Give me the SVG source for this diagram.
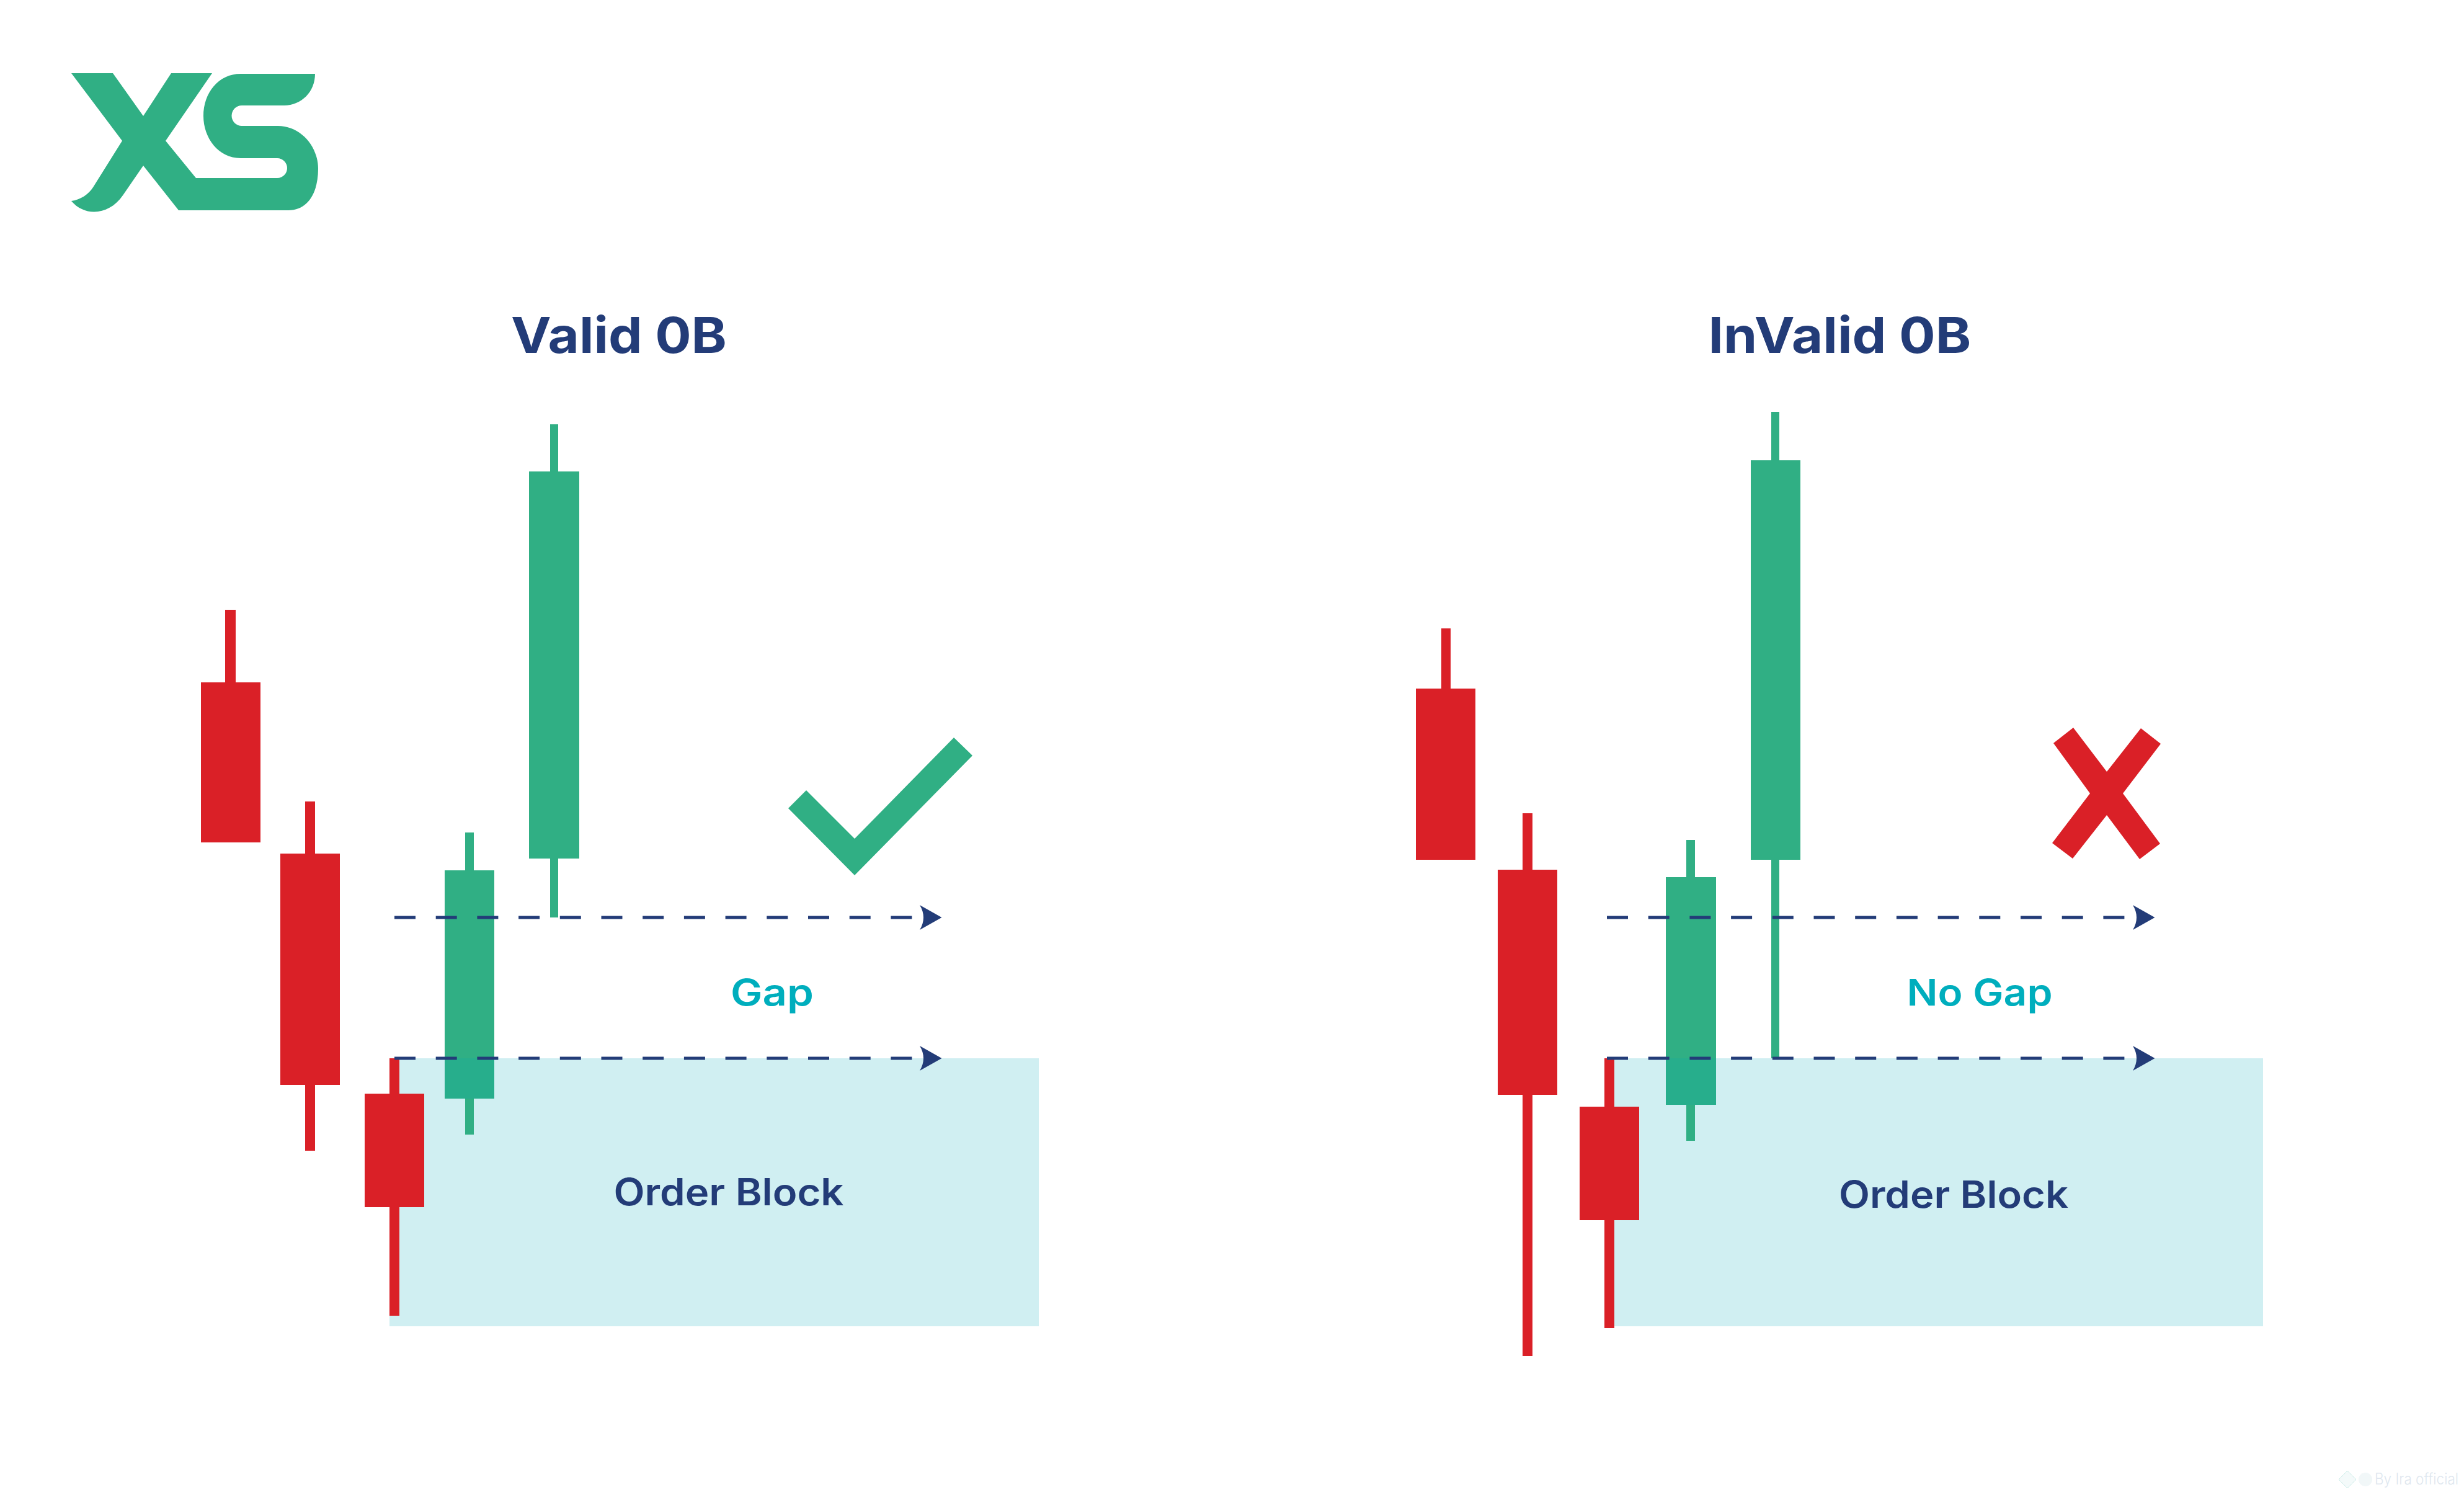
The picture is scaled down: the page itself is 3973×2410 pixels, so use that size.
<svg xmlns="http://www.w3.org/2000/svg" width="3973" height="2410" viewBox="0 0 3973 2410">
<style>
.r{fill:#da2027}.g{fill:#30af84}.b{fill:#d0eff2}.d{fill:#27ae8c}
.c{fill:none;stroke:#233c78;stroke-width:5;stroke-dasharray:34 32.7;marker-end:url(#arrow)}
text{font-family:Inter,"Liberation Sans",sans-serif;font-weight:600}
.title{font-size:80px;fill:#233c78;font-weight:650}.ob{font-size:60px;fill:#233c78}.gap{font-size:59px;fill:#00aebd}
.wm{font-size:25px;font-weight:300;fill:#9fb8d0;opacity:.55}
</style>
<defs>
<marker id="arrow" markerUnits="userSpaceOnUse" markerWidth="36" markerHeight="42" refX="0" refY="21" viewBox="0 0 36 42" orient="auto">
<path d="M0 1L35.500 21L0 41Q12 21 0 1Z" fill="#233c78"/>
</marker>
</defs>
<rect width="3973" height="2410" fill="#fff"/>
<g id="logo"><path class="g" d="M115 118H182L231 187L276 118H342L267 227L316 287H447A16 16 0 0 0 447 255H388C352 255 328 222 328 187C328 150 352 119 388 119H508C508 148 486 170 458 170H390A16.500 16.500 0 0 0 390 203H448C485 203 513 236 513 272C513 310 497 339 465 339H288L231 267L198 315C176 347 137 350 115 324C130 322 143 313 150 302L197 227Z"/></g>
<g id="title-valid"><text class="title" x="998" y="569" text-anchor="middle" textLength="348" lengthAdjust="spacingAndGlyphs">Valid 0B</text></g>
<g id="title-invalid"><text class="title" x="2966.500" y="569" text-anchor="middle" textLength="424" lengthAdjust="spacingAndGlyphs">InValid 0B</text></g>
<g id="zone-valid"><rect class="b" x="628" y="1706" width="1047" height="432"/><text class="ob" x="1175" y="1943" text-anchor="middle" textLength="371" lengthAdjust="spacingAndGlyphs">Order Block</text></g>
<g id="zone-invalid"><rect class="b" x="2588" y="1706" width="1061" height="432"/><text class="ob" x="3150" y="1947" text-anchor="middle" textLength="370" lengthAdjust="spacingAndGlyphs">Order Block</text></g>
<g id="valid-red-1"><rect class="r" x="363" y="983" width="17" height="120"/><rect class="r" x="324" y="1100" width="96" height="258"/></g>
<g id="valid-red-2"><rect class="r" x="492" y="1292" width="16" height="563"/><rect class="r" x="452" y="1376" width="96" height="373"/></g>
<g id="valid-red-3"><rect class="r" x="628" y="1706" width="16" height="415"/><rect class="r" x="588" y="1763" width="96" height="183"/></g>
<g id="valid-green-1"><rect class="g" x="750" y="1342" width="14" height="487"/><rect class="g" x="717" y="1403" width="80" height="303"/><rect class="d" x="717" y="1706" width="80" height="65"/></g>
<g id="valid-green-2"><rect class="g" x="887" y="684" width="13" height="795"/><rect class="g" x="853" y="760" width="81" height="624"/></g>
<g id="check"><polygon class="g" points="1271,1303 1300,1274 1378,1352 1538,1189 1568,1218 1378,1411"/></g>
<g id="invalid-red-1"><rect class="r" x="2324" y="1013" width="15" height="100"/><rect class="r" x="2283" y="1110" width="96" height="276"/></g>
<g id="invalid-red-2"><rect class="r" x="2455" y="1311" width="16" height="875"/><rect class="r" x="2415" y="1402" width="96" height="363"/></g>
<g id="invalid-red-3"><rect class="r" x="2587" y="1706" width="16" height="435"/><rect class="r" x="2547" y="1784" width="96" height="183"/></g>
<g id="invalid-green-1"><rect class="g" x="2719" y="1354" width="14" height="485"/><rect class="g" x="2686" y="1414" width="81" height="292"/><rect class="d" x="2686" y="1706" width="81" height="75"/></g>
<g id="invalid-green-2"><rect class="g" x="2856" y="664" width="13" height="1042"/><rect class="g" x="2823" y="742" width="80" height="644"/></g>
<g id="cross"><polygon class="r" points="3343,1173 3397,1244 3452,1174 3484,1199 3423,1279 3483,1360 3450,1385 3397,1314 3342,1384 3309,1359 3370,1279 3311,1198"/></g>
<g id="connectors">
<path class="c" d="M636 1479H1483"/>
<path class="c" d="M636 1706H1483"/>
<path class="c" d="M2591 1479H3439"/>
<path class="c" d="M2591 1706H3439"/>
</g>
<g id="label-gap"><text class="gap" x="1245" y="1621" text-anchor="middle" textLength="134" lengthAdjust="spacingAndGlyphs">Gap</text></g>
<g id="label-no-gap"><text class="gap" x="3192" y="1621" text-anchor="middle" textLength="235" lengthAdjust="spacingAndGlyphs">No Gap</text></g>
<g id="watermark" opacity=".6">
<path d="M3785 2371L3799 2385L3785 2399L3771 2385Z" fill="#eef7f8" stroke="#a8dfd8" stroke-width="1"/>
<circle cx="3814" cy="2385" r="11" fill="#e8f2f5"/>
<text class="wm" x="3829" y="2393" textLength="135" lengthAdjust="spacingAndGlyphs">By Ira official</text>
</g>
</svg>
